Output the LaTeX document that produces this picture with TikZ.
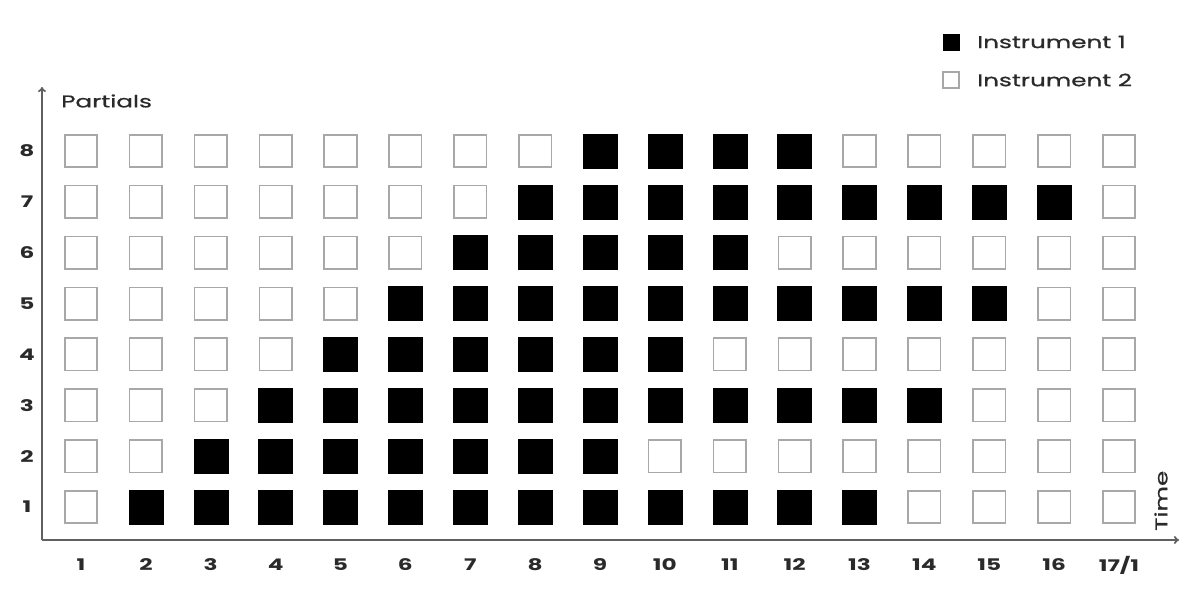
\documentclass[tikz,border=0pt]{standalone}
\usepackage{fontspec}
\setmainfont{Poppins}
\newfontfamily\widefont[FakeStretch=1.45]{Poppins}
\newfontfamily\widelabfont[FakeStretch=1.45,FakeBold=0.8]{Poppins}
\usetikzlibrary{arrows.meta}
\definecolor{cellgray}{HTML}{A8A8A8}
\definecolor{axisgray}{HTML}{606060}
\definecolor{txt}{HTML}{2A2A2A}
\begin{document}
\begin{tikzpicture}[x=1pt,y=-1pt,
  off/.style={draw=cellgray,line width=1.6pt,fill=white,minimum size=32.5pt,inner sep=0pt,outer sep=0pt},
  on/.style={fill=black,draw=black,line width=0.5pt,minimum size=34pt,inner sep=0pt,outer sep=0pt},
  axis/.style={draw=axisgray,line width=1.8pt,-{To[length=5pt,width=8pt]}},
  num/.style={font=\widefont\bfseries\fontsize{16}{16}\selectfont,text=txt,inner sep=0pt},
  lab/.style={font=\widelabfont\fontsize{17}{17}\selectfont,text=txt,inner sep=0pt}]
\useasboundingbox (0,0) rectangle (1200,614);
% cells
\foreach \r/\a/\b in {8/9/12,7/8/16,6/7/11,5/6/15,4/5/10,3/4/14,2/3/9,1/2/13}{
  \foreach \c in {1,...,17}{
    \ifnum\c<\a \def\st{off}\else\ifnum\c>\b \def\st{off}\else\def\st{on}\fi\fi
    \node[\st] (s\r-\c) at ({81+(\c-1)*64.875},{151+(8-\r)*50.857}) {};
  }
}
% axes
\coordinate (O) at (42,540);
\coordinate (ytop) at (42,87);
\coordinate (xend) at (1179,540);
\draw[axis] (O) -- (ytop);
\draw[axis] (O) -- (xend);
% row labels
\foreach \r in {1,...,8}{
  \node[num] (rl\r) at (27,{151+(8-\r)*50.857}) {\r};
}
% column labels
\foreach \c in {1,...,16}{
  \node[num] (cl\c) at ({81+(\c-1)*64.875},565) {\c};
}
\node[num] (cl17) at (1119,565) {17/1};
% axis titles
\node[lab,anchor=west] (partials) at (61,101) {Partials};
\node[lab,rotate=90,anchor=west] (time) at (1161,531) {Time};
% legend
\node[fill=black,minimum size=17pt,inner sep=0pt] (leg1) at (951,42) {};
\node[draw=cellgray,line width=1.4pt,minimum size=16pt,inner sep=0pt] (leg2) at (951,80) {};
\node[lab,anchor=west] (legt1) at (977,42) {Instrument 1};
\node[lab,anchor=west] (legt2) at (977,80) {Instrument 2};
\end{tikzpicture}
\end{document}
